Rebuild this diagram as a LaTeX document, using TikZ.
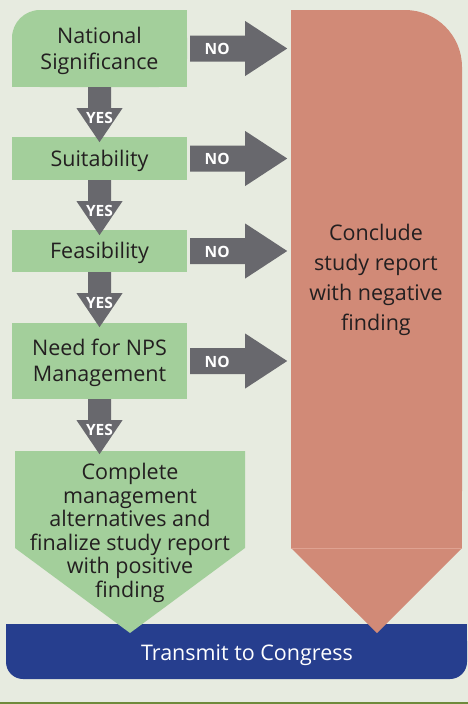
\documentclass[tikz,border=0pt]{standalone}
\usepackage{fontspec}
\setmainfont{Open Sans}
\usetikzlibrary{calc}
\definecolor{bgc}{HTML}{E7EBE0}
\definecolor{grn}{HTML}{A3CF9B}
\definecolor{gry}{HTML}{68686D}
\definecolor{rdc}{HTML}{D18A77}
\definecolor{rdl}{HTML}{DFA291}
\definecolor{blu}{HTML}{263E8E}
\definecolor{txt}{HTML}{231F20}
\definecolor{olv}{HTML}{6F8A3C}
\newcommand{\NoArrow}[1]{%
  \fill[gry] ($(#1.east)+(3,-13)$) -- ++(55,0) -- ++(0,-14.5) -- ++(42,27.5)
     -- ++(-42,27.5) -- ++(0,-14.5) -- ++(-55,0) -- cycle;
  \node[lbl] at ($(#1.east)+(30,0.5)$) {NO};}
\newcommand{\YesArrow}[1]{%
  \fill[gry] ($(#1.south)+(-11.5,0)$) -- ++(23,0) -- ++(0,21) -- ++(11.5,0)
     -- ++(-23,34) -- ++(-23,-34) -- ++(11.5,0) -- cycle;
  \node[lbl] at ($(#1.south)+(0,30.5)$) {YES};}
\begin{document}
\begin{tikzpicture}[x=1pt,y=-1pt,
  gbox/.style={fill=grn, inner sep=0pt, minimum width=175pt, text=txt, align=center,
    font=\fontsize{21.5}{26}\selectfont},
  tlbl/.style={inner sep=0pt, text=txt, align=center},
  lbl/.style={text=white, font=\bfseries\fontsize{15.5}{17}\selectfont, inner sep=0pt},
  tshift/.style={yshift=-2pt},
]
\useasboundingbox (0,0) rectangle (468,704);
\fill[bgc] (0,0) rectangle (468,704);
\fill[olv] (0,702) rectangle (468,704);
% blue bar
\fill[blu, rounded corners=17pt] (6,624) rectangle (467,679);
\fill[blu] (6,624) rectangle (467,650);
\node[text=white, font=\fontsize{21.5}{26}\selectfont, inner sep=0pt] (congress) at (247,655) {Transmit to Congress};
% red shape
\fill[rdc, rounded corners=57pt] (291,10) rectangle (462,548);
\fill[rdc] (291,10) rectangle (400,548);
\fill[rdc] (291,70) rectangle (462,548);
\fill[rdc] (291,548) -- (462,548) -- (377,633) -- cycle;
\draw[rdl, line width=0.8pt] (291,548) -- (462,548);
\node[tlbl, font=\fontsize{21.5}{30}\selectfont] (concl) at (376,280) {Conclude\\study report\\with negative\\finding};
% green pentagon
\fill[grn] (15,451) -- (245,451) -- (245,548) -- (130,633) -- (15,548) -- cycle;
\node[tlbl, font=\fontsize{21.5}{23.5}\selectfont] (fin) at (130,533) {Complete\\management\\alternatives and\\finalize study report\\with positive\\finding};
% box 1 with rounded top-left corner
\fill[grn, rounded corners=28pt] (12,10) rectangle (187,87);
\fill[grn] (40,10) rectangle (187,87);
\fill[grn] (12,38) rectangle (187,87);
\node[gbox, fill=none, minimum height=77pt] (ns) at (99.5,48.5) {};
\node[tlbl, font=\fontsize{21.5}{26}\selectfont] at ($(ns.center)+(0,2)$) {National\\Significance};
\node[gbox, minimum height=43pt] (suit) at (99.5,158.5) {};
\node[tlbl, font=\fontsize{21.5}{26}\selectfont] at ($(suit.center)+(0,2)$) {Suitability};
\node[gbox, minimum height=42pt] (feas) at (99.5,251) {};
\node[tlbl, font=\fontsize{21.5}{26}\selectfont] at ($(feas.center)+(0,2)$) {Feasibility};
\node[gbox, minimum height=76pt] (need) at (99.5,361) {};
\node[tlbl, font=\fontsize{21.5}{26}\selectfont] at ($(need.center)+(0,2)$) {Need for NPS\\Management};
% arrows
\NoArrow{ns}
\NoArrow{suit}
\NoArrow{feas}
\NoArrow{need}
\YesArrow{ns}
\YesArrow{suit}
\YesArrow{feas}
\YesArrow{need}
\end{tikzpicture}
\end{document}
